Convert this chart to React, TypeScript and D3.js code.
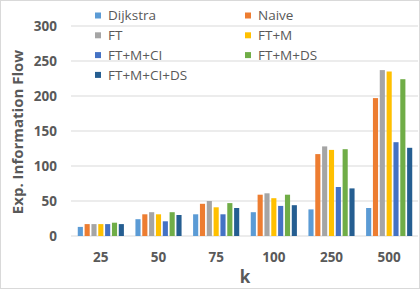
import React from 'react';
import * as d3 from 'd3';

const categories = ['25', '50', '75', '100', '250', '500'];
const seriesNames = ['Dijkstra', 'Naive', 'FT', 'FT+M', 'FT+M+CI', 'FT+M+DS', 'FT+M+CI+DS'];
const colors = ['#5B9BD5', '#ED7D31', '#A5A5A5', '#FFC000', '#4472C4', '#70AD47', '#255E91'];

// values per series, one per k
const dijkstra = [13, 24, 31, 34, 38, 40];
const naive = [17, 31, 46, 59, 117, 197];
const ft = [17, 34, 50, 61, 128, 237];
const ftM = [17, 31, 41, 54, 123, 235];
const ftMCI = [17, 21, 31, 43, 70, 134];
const ftMDS = [19, 34, 47, 59, 124, 224];
const ftMCIDS = [17, 30, 40, 44, 68, 126];
const seriesValues = [dijkstra, naive, ft, ftM, ftMCI, ftMDS, ftMCIDS];

const yTicks = [0, 50, 100, 150, 200, 250, 300];

const W = 420;
const H = 289;
const textColor = '#595959';
const font = '"Open Sans", "DejaVu Sans", sans-serif';

const App = () => {
  const x = d3.scaleBand<string>()
    .domain(categories)
    .range([72, 418])
    .paddingInner(0.2)
    .paddingOuter(0.1);

  const xs = d3.scaleBand<string>()
    .domain(seriesNames)
    .range([0, x.bandwidth()])
    .paddingInner(0.25);

  const y = d3.scaleLinear()
    .domain([0, 300])
    .range([236, 26]);

  return (
    <svg width={W} height={H} style={{ position: 'absolute', left: 0, top: 0, background: '#fff' }}>
      <rect x={0.5} y={0.5} width={W - 1} height={H - 1} fill="#fff" stroke="#d9d9d9" />

      {yTicks.map(t => (
        <g key={t}>
          <line x1={71} x2={418} y1={y(t)} y2={y(t)} stroke="#d9d9d9" strokeWidth={1} />
          <text x={57} y={y(t)} dy="0.35em" textAnchor="end" fontFamily={font}
            fontWeight="bold" fontSize={13.5} fill={textColor}>{t}</text>
        </g>
      ))}

      {categories.map((c, ci) => (
        <g key={c} transform={`translate(${x(c)},0)`}>
          {seriesNames.map((s, si) => (
            <rect key={s} x={xs(s)} width={xs.bandwidth()}
              y={y(seriesValues[si][ci])} height={y(0) - y(seriesValues[si][ci])}
              fill={colors[si]} />
          ))}
        </g>
      ))}

      {categories.map(c => (
        <text key={c} x={(x(c) as number) + x.bandwidth() / 2} y={257} dy="0.35em"
          textAnchor="middle" fontFamily={font} fontWeight="bold" fontSize={13.5}
          fill={textColor}>{c}</text>
      ))}

      <text x={245} y={277} dy="0.35em" textAnchor="middle" fontFamily={font}
        fontWeight="bold" fontSize={17} fill={textColor}>k</text>

      <text transform="translate(18,132) rotate(-90)" dy="0.35em" textAnchor="middle"
        fontFamily={font} fontWeight="bold" fontSize={15} fill={textColor}>
        Exp. Information Flow
      </text>

      {seriesNames.map((s, i) => {
        const col = i % 2;
        const row = Math.floor(i / 2);
        const lx = col === 0 ? 95 : 245;
        const ly = 15.5 + row * 19.8;
        return (
          <g key={s}>
            <rect x={lx} y={ly - 3} width={6} height={6} fill={colors[i]} />
            <text x={lx + 13} y={ly} dy="0.35em" fontFamily={font} fontSize={13.5}
              fill={textColor}>{s}</text>
          </g>
        );
      })}
    </svg>
  );
};

export default App;
